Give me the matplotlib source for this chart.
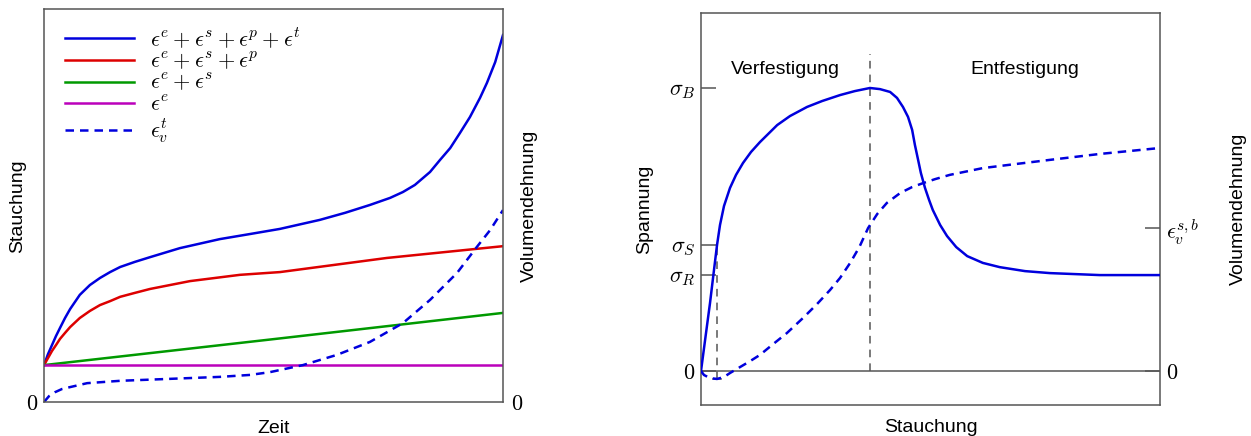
import matplotlib
matplotlib.use("Agg")
import matplotlib.pyplot as plt

plt.rcParams['font.family'] = ['Liberation Sans', 'DejaVu Sans']
plt.rcParams['mathtext.fontset'] = 'cm'

# ---------------- left panel data (Zeit vs Stauchung) ----------------
t_early = [0, .0087, .0174, .0261, .035, .0458, .057, .078, .100, .122, .144, .166, .198, .231]
t_blue = t_early + [.296, .383, .449, .514, .601, .656, .710, .754, .782, .808, .841, .863, .885,
                    .906, .928, .950, .965, .983, 1.0]
eps_total = [.094, .122, .145, .168, .189, .214, .237, .273, .298, .316, .331, .344, .357, .369,
             .392, .415, .428, .441, .464, .482, .502, .520, .535, .553, .586, .617, .647,
             .685, .726, .775, .813, .866, .935]
t_red = t_early + [.318, .427, .514, .747, 1.0]
eps_esp = [.094, .112, .130, .145, .161, .176, .191, .214, .232, .247, .257, .268, .278, .288,
           .308, .324, .331, .367, .397]
t_green = [0, .514, 1.0]
eps_es = [.094, .162, .227]
t_mag = [0, 1.0]
eps_e = [.093, .093]
t_vol = [0, .011, .024, .039, .057, .094, .166, .275, .383, .449, .492, .564, .638, .710, .782, .841,
         .900, .943, .972, 1.0]
eps_vt = [0, .015, .025, .033, .038, .048, .054, .059, .064, .069, .076, .094, .120, .153, .201, .260,
          .329, .395, .438, .489]

legend_labels = [r'$\epsilon^e+\epsilon^s+\epsilon^p+\epsilon^t$',
                 r'$\epsilon^e+\epsilon^s+\epsilon^p$',
                 r'$\epsilon^e+\epsilon^s$',
                 r'$\epsilon^e$',
                 r'$\epsilon^t_v$']

# ---------------- right panel data (Stauchung vs Spannung) ----------------
strain_sig = [0, .0109, .0196, .0283, .0349, .0414, .0501, .0632, .0763, .0915, .109, .1285, .166, .194,
              .231, .264, .303, .335, .368, .390, .412, .427, .440, .451, .460, .466, .473, .479, .488,
              .497, .505, .521, .536, .556, .580, .614, .651, .706, .760, .869, 1.0]
stress = [0, .134, .240, .357, .445, .516, .583, .647, .693, .735, .774, .809, .869, .901,
          .933, .954, .975, .989, 1.0, .996, .986, .965, .933, .898, .852, .799, .746, .700, .647,
          .604, .569, .516, .477, .438, .406, .382, .367, .353, .346, .339, .339]
strain_vol = [0, .0065, .0196, .0349, .0501, .0632, .085, .107, .1285, .157, .187, .222, .253, .281, .303,
              .325, .345, .364, .384, .405, .434, .460, .484, .510, .542, .614, .684, .760, .869, 1.0]
vol_strain = [0, -.014, -.025, -.028, -.021, -.007, .014, .035, .057, .095, .134, .187, .237, .286, .329,
              .382, .438, .505, .555, .594, .629, .650, .664, .678, .693, .717, .731, .746, .767, .788]

sigma_B = 1.0
sigma_S = 0.445
sigma_R = 0.339
eps_vsb = 0.505
strain_S = 0.035
strain_B = 0.368

BLUE = '#0000dd'
RED = '#dd0000'
GREEN = '#009900'
MAG = '#bb00bb'
GRAY = '#555555'
LW = 1.8
DASH = (0, (3.4, 2.4))
LBL = 14
TICK = 16

fig = plt.figure(figsize=(12.51, 4.36), dpi=100)

# ---------- left ----------
ax1 = fig.add_axes([44/1251, 1-402/436, 459/1251, 392.5/436])
ax1.plot(t_blue, eps_total, color=BLUE, lw=LW, label=legend_labels[0])
ax1.plot(t_red, eps_esp, color=RED, lw=LW, label=legend_labels[1])
ax1.plot(t_green, eps_es, color=GREEN, lw=LW, label=legend_labels[2])
ax1.plot(t_mag, eps_e, color=MAG, lw=LW, label=legend_labels[3])
ax1.plot(t_vol, eps_vt, color=BLUE, lw=LW, ls=DASH, label=legend_labels[4])
ax1.set_xlim(0, 1)
ax1.set_ylim(0, 1)
ax1.set_xticks([])
ax1.set_yticks([0])
ax1.set_yticklabels([r'$0$'], fontsize=TICK)
ax1.tick_params(axis='y', length=0, pad=4)
for s in ax1.spines.values():
    s.set_color(GRAY)
    s.set_linewidth(1.1)
ax1.set_xlabel('Zeit', fontsize=LBL)
ax1.xaxis.set_label_coords(0.5, -0.045)
ax1.set_ylabel('Stauchung', fontsize=LBL)
ax1.yaxis.set_label_coords(-0.039, 0.5)
ax1b = ax1.twinx()
ax1b.set_ylim(0, 1)
ax1b.set_yticks([0])
ax1b.set_yticklabels([r'$0$'], fontsize=TICK)
ax1b.tick_params(axis='y', length=0, pad=6)
ax1b.set_ylabel('Volumendehnung', fontsize=LBL)
ax1b.yaxis.set_label_coords(1.040, 0.5)
for s in ax1b.spines.values():
    s.set_visible(False)
ax1.legend(loc='upper left', bbox_to_anchor=(0.046, 0.957), frameon=False, fontsize=16,
           handlelength=3.1, handletextpad=0.7, labelspacing=0.02, borderaxespad=0, borderpad=0)

# ---------- right ----------
ax2 = fig.add_axes([701/1251, 1-405/436, 459/1251, 392.3/436])
ax2.set_xlim(0, 1)
ax2.set_ylim(-0.120, 1.266)
ax2.axhline(0, color=GRAY, lw=1.1, zorder=1)
ax2.plot([strain_S, strain_S], [vol_strain[3], sigma_S], color=GRAY, lw=1.1, ls=(0, (5, 4)), zorder=1)
ax2.plot([strain_B, strain_B], [0, 1.12], color=GRAY, lw=1.1, ls=(0, (5, 4)), zorder=1)
ax2.plot([strain_S - 0.008, strain_S + 0.008], [vol_strain[3], vol_strain[3]], color=GRAY, lw=1.1, zorder=1)
ax2.plot(strain_sig, stress, color=BLUE, lw=LW, zorder=3)
ax2.plot(strain_vol, vol_strain, color=BLUE, lw=LW, ls=DASH, zorder=3)
ax2.set_xticks([])
ax2.set_yticks([0, sigma_R, sigma_S, sigma_B])
ax2.set_yticklabels([r'$0$', r'$\sigma_R$', r'$\sigma_S$', r'$\sigma_B$'], fontsize=TICK)
ax2.tick_params(axis='y', direction='in', length=11, width=1.1, color=GRAY, pad=4)
for s in ax2.spines.values():
    s.set_color(GRAY)
    s.set_linewidth(1.1)
ax2.set_xlabel('Stauchung', fontsize=LBL)
ax2.xaxis.set_label_coords(0.5, -0.035)
ax2.set_ylabel('Spannung', fontsize=LBL)
ax2.yaxis.set_label_coords(-0.104, 0.5)
ax2.text(0.183, 1.064, 'Verfestigung', fontsize=LBL, ha='center', va='center')
ax2.text(0.706, 1.064, 'Entfestigung', fontsize=LBL, ha='center', va='center')
ax2b = ax2.twinx()
ax2b.set_ylim(-0.120, 1.266)
ax2b.set_yticks([0, eps_vsb])
ax2b.set_yticklabels([r'$0$', r'$\epsilon_v^{s,b}$'], fontsize=TICK)
ax2b.tick_params(axis='y', direction='in', length=11, width=1.1, color=GRAY, pad=4)
for s in ax2b.spines.values():
    s.set_visible(False)
ax2b.set_ylabel('Volumendehnung', fontsize=LBL)
ax2b.yaxis.set_label_coords(1.152, 0.5)

fig.savefig('out.png', dpi=100)
